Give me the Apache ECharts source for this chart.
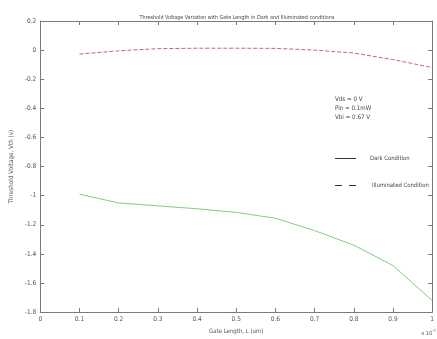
<!DOCTYPE html>
<html>
<head>
<meta charset="utf-8">
<script src="https://cdn.jsdelivr.net/npm/echarts@6/dist/echarts.min.js"></script>
<style>html,body{margin:0;padding:0;background:#fff;}#c{width:437px;height:339px;}</style>
</head>
<body>
<div id="c"></div>
<script>
var gateLength = [0.1, 0.2, 0.3, 0.4, 0.5, 0.6, 0.7, 0.8, 0.9, 1.0];
var darkVth = [-0.99, -1.05, -1.07, -1.09, -1.115, -1.155, -1.24, -1.34, -1.48, -1.72];
var illumVth = [-0.027, -0.005, 0.01, 0.013, 0.013, 0.012, 0.0, -0.02, -0.065, -0.12];
var xTicks = [0, 0.1, 0.2, 0.3, 0.4, 0.5, 0.6, 0.7, 0.8, 0.9, 1];
var yTicks = [-1.8, -1.6, -1.4, -1.2, -1, -0.8, -0.6, -0.4, -0.2, 0, 0.2];
var legendNames = ['Dark Condition', 'Illuminated Condition'];
var conditionText = ['Vds = 0 V', 'Pin = 0.1mW', 'Vbi = 0.67 V'];

var FONT = "'Liberation Sans Narrow','DejaVu Sans Condensed','Liberation Sans',sans-serif";
var axisCol = '#7a7a7a';
var txtCol = '#555';

function pairs(xs, ys){ return xs.map(function(x,i){ return [x, ys[i]]; }); }
function fmt(v){ return String(Math.round(v*10)/10); }

var chart = echarts.init(document.getElementById('c'));
function axisCommon(){
  return {
    axisLine: {show: true, onZero: false, lineStyle: {color: axisCol, width: 1}},
    axisTick: {show: true, inside: true, length: 4, lineStyle: {color: axisCol}},
    splitLine: {show: false}
  };
}
chart.setOption({
  animation: false,
  backgroundColor: '#fff',
  title: {
    text: 'Threshold Voltage Variation with Gate Length in Dark and Illuminated conditions',
    left: 232, top: 10, textAlign: 'center',
    textStyle: {fontFamily: FONT, fontSize: 5.4, fontWeight: 'normal', color: '#444'}
  },
  grid: {left: 29, right: 1, top: 21, bottom: 25},
  xAxis: [Object.assign({
    type: 'value', min: 0, max: 1, interval: 0.1, position: 'bottom',
    name: 'Gate Length, L (um)', nameLocation: 'middle', nameGap: 13,
    nameTextStyle: {fontFamily: FONT, fontSize: 6, color: txtCol},
    axisLabel: {fontFamily: FONT, fontSize: 6.5, color: txtCol, margin: 4, formatter: function(v){ return fmt(v); }}
  }, axisCommon()), Object.assign({
    type: 'value', min: 0, max: 1, interval: 0.1, position: 'top',
    axisLabel: {show: false}
  }, axisCommon())],
  yAxis: [Object.assign({
    type: 'value', min: -1.8, max: 0.2, interval: 0.2, position: 'left',
    name: 'Threshold Voltage, Vth (v)', nameLocation: 'middle', nameGap: 15,
    nameTextStyle: {fontFamily: FONT, fontSize: 6.3, color: txtCol},
    axisLabel: {fontFamily: FONT, fontSize: 6.5, color: txtCol, margin: 4, formatter: function(v){ return fmt(v); }}
  }, axisCommon()), Object.assign({
    type: 'value', min: -1.8, max: 0.2, interval: 0.2, position: 'right',
    axisLabel: {show: false}
  }, axisCommon())],
  graphic: [
    {type: 'text', left: 335, top: 95, style: {text: conditionText.join('\n'), fontFamily: FONT, fontSize: 6.2, lineHeight: 9, fill: '#444'}},
    {type: 'line', shape: {x1: 335, y1: 158.5, x2: 356, y2: 158.5}, style: {stroke: '#333', lineWidth: 1}},
    {type: 'text', left: 370, top: 155, style: {text: legendNames[0], fontFamily: FONT, fontSize: 5.9, fill: '#444'}},
    {type: 'line', shape: {x1: 335, y1: 185.5, x2: 356, y2: 185.5}, style: {stroke: '#333', lineWidth: 1, lineDash: [7, 7]}},
    {type: 'text', left: 372, top: 182, style: {text: legendNames[1], fontFamily: FONT, fontSize: 5.9, fill: '#444'}},
    {type: 'text', right: 1, top: 329, style: {
      text: '{a|x 10}{b|-7}', fill: txtCol,
      rich: {a: {fontFamily: FONT, fontSize: 5.6, fill: txtCol, verticalAlign: 'bottom'}, b: {fontFamily: FONT, fontSize: 4.2, fill: txtCol, verticalAlign: 'top', padding: [0,0,4,0]}}
    }}
  ],
  series: [
    {name: legendNames[0], type: 'line', xAxisIndex: 0, yAxisIndex: 0, data: pairs(gateLength, darkVth),
      symbol: 'none', lineStyle: {color: '#7fcf7f', width: 1}, itemStyle: {color: '#7fcf7f'}},
    {name: legendNames[1], type: 'line', xAxisIndex: 0, yAxisIndex: 0, data: pairs(gateLength, illumVth),
      symbol: 'none', lineStyle: {color: '#c46a6a', width: 1, type: [4,2]}, itemStyle: {color: '#c46a6a'}}
  ]
});
</script>
</body>
</html>
